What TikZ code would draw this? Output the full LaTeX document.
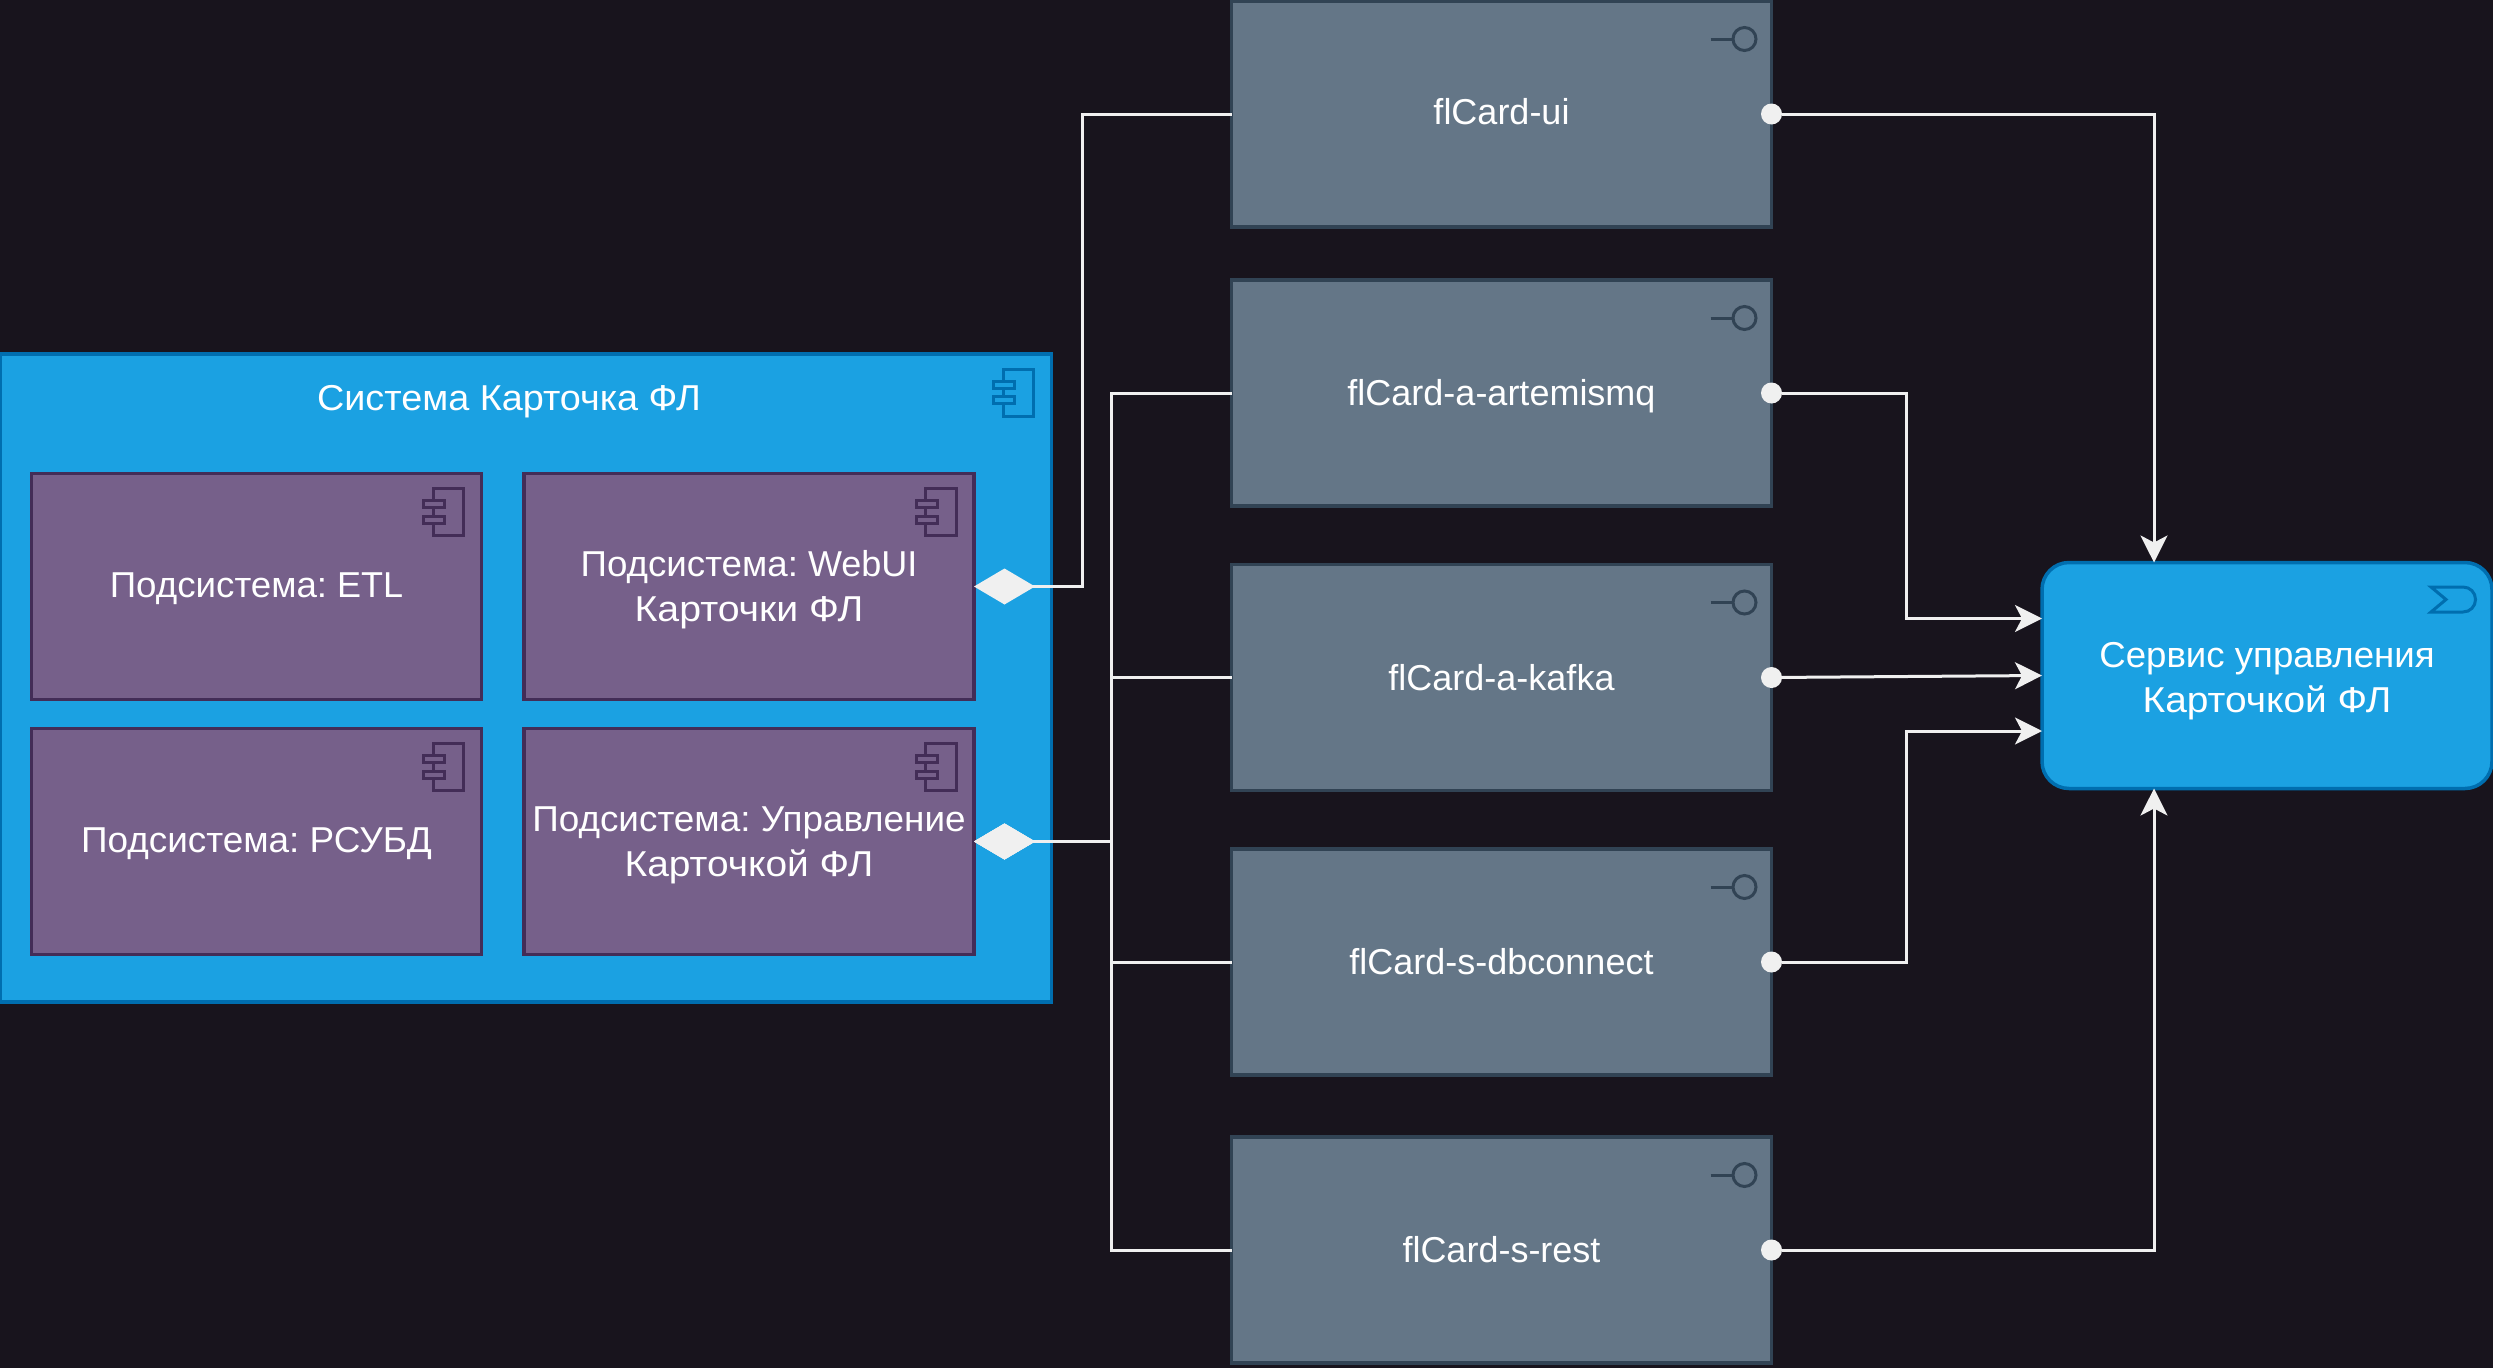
\documentclass[tikz,border=0pt]{standalone}
\usepackage{fontspec}
\setmainfont[Ligatures=NoCommon]{Liberation Sans}
\newcommand\cyr[2]{{\addfontfeature{FakeStretch=#1}#2}}
\newcommand\lift[1]{\rule{0pt}{#1pt}}
\usetikzlibrary{arrows.meta}
\definecolor{pagebg}{HTML}{18141D}
\definecolor{bluefill}{HTML}{1BA1E2}
\definecolor{blueline}{HTML}{006EAF}
\definecolor{violetfill}{HTML}{76608A}
\definecolor{violetline}{HTML}{432D57}
\definecolor{slatefill}{HTML}{647687}
\definecolor{slateline}{HTML}{314354}
\definecolor{linkcol}{HTML}{F0F0F0}
\tikzset{
  boxtext/.style={text=white,align=center,font=\fontsize{36}{44.5}\selectfont\frenchspacing,
    inner sep=0pt,outer sep=0pt,line width=3.5pt},
  systembox/.style={boxtext,draw=blueline,fill=bluefill,
    minimum width=1051pt,minimum height=648pt},
  subbox/.style={boxtext,draw=violetline,fill=violetfill,
    minimum width=450pt,minimum height=226pt},
  appbox/.style={boxtext,draw=slateline,fill=slatefill,line width=3.2pt,
    minimum width=540pt,minimum height=226pt},
  servicebox/.style={boxtext,draw=blueline,fill=bluefill,rounded corners=27pt,
    minimum width=450pt,minimum height=226pt},
  portdot/.style={circle,fill=linkcol,minimum size=21pt,inner sep=0pt,outer sep=0pt},
  link/.style={draw=linkcol,line width=3pt},
  linkto/.style={link,-{Stealth[length=27pt,width=27pt,inset=7pt]}},
  linkfrom/.style={link,{Diamond[length=61pt,width=36pt]}-},
  pics/compicon/.style 2 args={code={
    \draw[#1,line width=3pt] (-48.5,15) rectangle (-18,62);
    \draw[#1,fill=#2,line width=3pt] (-58,27) rectangle (-37,34);
    \draw[#1,fill=#2,line width=3pt] (-58,42.6) rectangle (-37,49.6);
  }},
  pics/porticon/.style={code={
    \draw[slateline,line width=3pt] (-61,38) -- (-38.5,38);
    \draw[slateline,line width=3pt] (-27,38) circle (11.5);
  }},
  pics/serviceicon/.style={code={
    \draw[blueline,line width=3pt] (-61,24.5) -- (-29,24.5)
      .. controls (-22,24.5) and (-16.5,30) .. (-16.5,37)
      .. controls (-16.5,44) and (-22,49.5) .. (-29,49.5) -- (-61,49.5) -- (-46,37) -- cycle;
  }},
}
\begin{document}
\begin{tikzpicture}[x=1pt,y=-1pt]
\useasboundingbox[fill=pagebg] (0,0) rectangle (2493,1368);
% System with its subsystems
\node[systembox] (system) at (526,678) {};
\node[boxtext] (systemtext) at (509,402) {\cyr{1.05}{Система Карточка ФЛ}};
\pic at (system.north east) {compicon={blueline}{bluefill}};
\node[subbox] (etl) at (256.5,586.5) {\lift{29}\cyr{1.02}{Подсистема:} ETL};
\node[subbox] (webui) at (749,586.5) {\lift{32}\cyr{1.02}{Подсистема:} WebUI\\\cyr{1.09}{Карточки ФЛ}};
\node[subbox] (rsubd) at (256.5,841.5) {\lift{29}\cyr{1.025}{Подсистема: РСУБД}};
\node[subbox] (control) at (749,841.5) {\lift{32}\cyr{1.024}{Подсистема: Управление}\\\cyr{1.08}{Карточкой ФЛ}};
\foreach \sub in {etl,webui,rsubd,control}
  \pic at (\sub.north east) {compicon={violetline}{violetfill}};
% Application components
\foreach \app/\ypos/\hgt/\txt in {ui/114/25.3/flCard-ui,artemismq/393/28/flCard-a-artemismq,
    kafka/677.5/29/flCard-a-kafka,dbconnect/962/29/flCard-s-dbconnect,rest/1250/29/flCard-s-rest} {
  \node[appbox,text height=\hgt pt,text depth=4pt] (\app) at (1501.5,\ypos) {\txt};
  \pic at (\app.north east) {porticon};
  \node[portdot] (\app port) at (\app.east) {};
}
% Service
\node[servicebox] (service) at (2267,675.5) {\lift{36}\cyr{1.017}{Сервис управления}\\\cyr{1.08}{Карточкой ФЛ}};
\pic at (service.north east) {serviceicon};
% Links on the left
\draw[linkfrom] (webui.east) -- ++(108,0) |- (ui.west);
\foreach \app in {artemismq,kafka,dbconnect,rest}
  \draw[linkfrom] (control.east) -- ++(137,0) |- (\app.west);
% Links on the right
\draw[linkto] (uiport) -| ([xshift=-113pt]service.north);
\draw[linkto] (artemismqport) -- ++(135,0) |- ([yshift=57pt]service.west);
\draw[linkto] (kafkaport) -- (service.west);
\draw[linkto] (dbconnectport) -- ++(135,0) |- ([yshift=-55.5pt]service.west);
\draw[linkto] (restport) -| ([xshift=-113pt]service.south);
\end{tikzpicture}
\end{document}
